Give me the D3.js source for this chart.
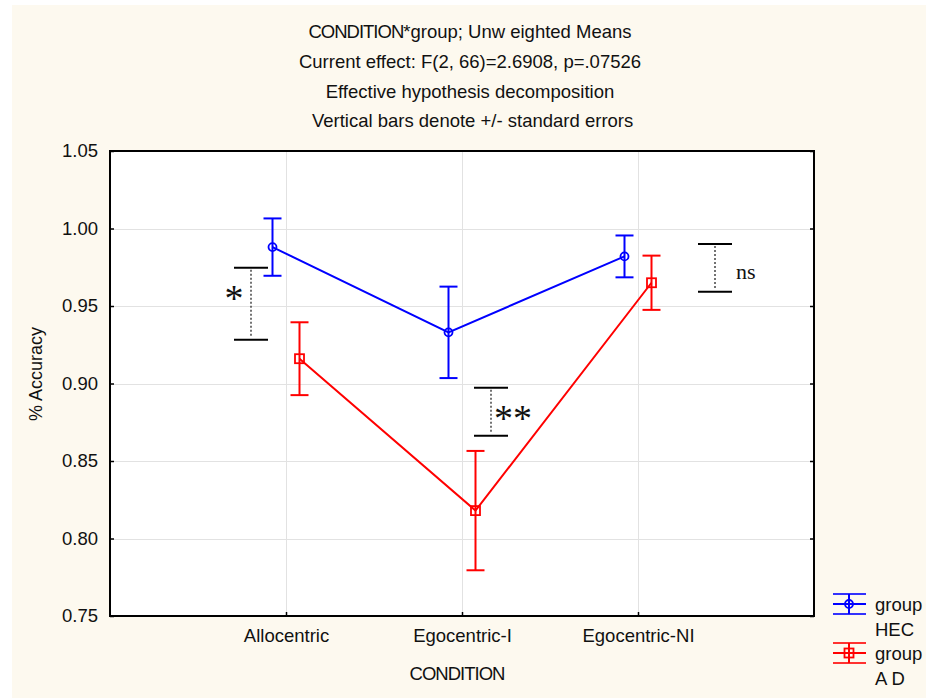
<!DOCTYPE html>
<html>
<head>
<meta charset="utf-8">
<script src="https://cdn.jsdelivr.net/npm/d3@7/dist/d3.min.js"></script>
<style>
  html, body { margin: 0; padding: 0; background: #ffffff; }
  svg { display: block; }
  text { font-family: "Liberation Sans", Arial, sans-serif; fill: #111; }
</style>
</head>
<body>
<svg id="chart" width="926" height="698"></svg>
<script>
// Conditions on the x axis
const conditions = ["Allocentric", "Egocentric-I", "Egocentric-NI"];

// Group means and standard errors (proportion correct)
const groups = ["HEC", "AD"];
const hecMean = [0.988, 0.933, 0.982];
const hecSE   = [0.0185, 0.0295, 0.0135];
const adMean  = [0.916, 0.818, 0.965];
const adSE    = [0.0235, 0.0385, 0.0175];

// Y axis ticks
const yTicks = [0.75, 0.80, 0.85, 0.90, 0.95, 1.00, 1.05];

// Title lines
const titleLines = [
  "CONDITION*group; Unw eighted Means",
  "Current effect: F(2, 66)=2.6908, p=.07526",
  "Effective hypothesis decomposition",
  " Vertical bars denote +/- standard errors"
];

// Pairwise comparison brackets: condition, upper value, lower value, label
const bracketCond  = ["Allocentric", "Egocentric-I", "Egocentric-NI"];
const bracketHigh  = [0.9747, 0.8973, 0.9900];
const bracketLow   = [0.9283, 0.8663, 0.9592];
const bracketLabel = ["*", "**", "ns"];

// ---- layout ----
const svg = d3.select("#chart");
const W = 926, H = 698;
const plot = { left: 110, top: 151, right: 814, bottom: 616 };
const groupColor = { HEC: "#0000ff", AD: "#ff0000" };
const groupDx = { HEC: -13.5, AD: 13.5 };
const bracketDx = [-35, 29, 77];
const FS = 18.5;
const serif = "Liberation Serif, Times New Roman, serif";

// page background
svg.append("rect").attr("x", 12).attr("y", 5).attr("width", W - 12).attr("height", H - 5)
  .attr("fill", "#fdf9ef");

const x = d3.scalePoint().domain(conditions).range([plot.left, plot.right]).padding(1);
const y = d3.scaleLinear().domain([0.75, 1.05]).range([plot.bottom, plot.top]);

// plot area
svg.append("rect")
  .attr("x", plot.left).attr("y", plot.top)
  .attr("width", plot.right - plot.left).attr("height", plot.bottom - plot.top)
  .attr("fill", "#ffffff");

// grid
const grid = svg.append("g").attr("stroke", "#e2e2e2").attr("stroke-width", 1);
grid.selectAll("line.h").data(yTicks.slice(1, -1)).join("line")
  .attr("x1", plot.left).attr("x2", plot.right)
  .attr("y1", d => Math.round(y(d)) + 0.5).attr("y2", d => Math.round(y(d)) + 0.5);
grid.selectAll("line.v").data(conditions).join("line")
  .attr("x1", d => Math.round(x(d)) + 0.5).attr("x2", d => Math.round(x(d)) + 0.5)
  .attr("y1", plot.top).attr("y2", plot.bottom);

// axes (ticks pointing inward)
const yAxis = d3.axisLeft(y).tickValues(yTicks).tickFormat(d3.format(".2f")).tickSizeInner(-4).tickSizeOuter(0).tickPadding(12);
const gy = svg.append("g").attr("transform", `translate(${plot.left},0)`).call(yAxis);
gy.select(".domain").remove();
gy.selectAll(".tick line").attr("stroke", "#000").attr("stroke-width", 1.5);
gy.selectAll(".tick text").attr("font-size", FS).attr("fill", "#111")
  .attr("font-family", "Liberation Sans, Arial, sans-serif");

const yAxisR = d3.axisRight(y).tickValues(yTicks).tickSizeInner(-4).tickSizeOuter(0).tickFormat("");
const gyr = svg.append("g").attr("transform", `translate(${plot.right},0)`).call(yAxisR);
gyr.select(".domain").remove();
gyr.selectAll(".tick line").attr("stroke", "#000").attr("stroke-width", 1.5);

const xAxis = d3.axisBottom(x).tickSizeInner(-4).tickSizeOuter(0).tickPadding(13);
const gx = svg.append("g").attr("transform", `translate(0,${plot.bottom})`).call(xAxis);
gx.select(".domain").remove();
gx.selectAll(".tick line").attr("stroke", "#000").attr("stroke-width", 1.5);
gx.selectAll(".tick text").attr("font-size", FS).attr("fill", "#111")
  .attr("font-family", "Liberation Sans, Arial, sans-serif");

// frame
svg.append("rect")
  .attr("x", plot.left).attr("y", plot.top)
  .attr("width", plot.right - plot.left).attr("height", plot.bottom - plot.top)
  .attr("fill", "none").attr("stroke", "#000").attr("stroke-width", 2);

// series
const series = [
  { name: "HEC", mean: hecMean, se: hecSE },
  { name: "AD", mean: adMean, se: adSE }
];

series.forEach(s => {
  const col = groupColor[s.name];
  const px = i => x(conditions[i]) + groupDx[s.name];
  const g = svg.append("g");
  g.append("path")
    .datum(s.mean)
    .attr("fill", "none").attr("stroke", col).attr("stroke-width", 2)
    .attr("d", d3.line().x((d, i) => px(i)).y(d => y(d)));
  s.mean.forEach((m, i) => {
    const cx = px(i), hi = y(m + s.se[i]), lo = y(m - s.se[i]);
    g.append("line").attr("x1", cx).attr("x2", cx).attr("y1", hi).attr("y2", lo)
      .attr("stroke", col).attr("stroke-width", 2);
    [hi, lo].forEach(yy => g.append("line")
      .attr("x1", cx - 9).attr("x2", cx + 9).attr("y1", yy).attr("y2", yy)
      .attr("stroke", col).attr("stroke-width", 2));
    if (s.name === "HEC") {
      g.append("circle").attr("cx", cx).attr("cy", y(m)).attr("r", 4)
        .attr("fill", "none").attr("stroke", col).attr("stroke-width", 1.8);
    } else {
      g.append("rect").attr("x", cx - 4.5).attr("y", y(m) - 4.5).attr("width", 9).attr("height", 9)
        .attr("fill", "none").attr("stroke", col).attr("stroke-width", 1.8);
    }
  });
});

// comparison brackets
bracketCond.forEach((c, i) => {
  const cx = x(c) + bracketDx[i];
  const yh = y(bracketHigh[i]), yl = y(bracketLow[i]);
  const g = svg.append("g");
  [yh, yl].forEach(yy => g.append("line")
    .attr("x1", cx - 17).attr("x2", cx + 17).attr("y1", yy).attr("y2", yy)
    .attr("stroke", "#000").attr("stroke-width", 2));
  g.append("line").attr("x1", cx).attr("x2", cx).attr("y1", yh + 2).attr("y2", yl - 2)
    .attr("stroke", "#444").attr("stroke-width", 1.5).attr("stroke-dasharray", "2,2");
  const lab = bracketLabel[i];
  const ym = (yh + yl) / 2;
  if (lab === "*") {
    g.append("text").attr("x", cx - 17).attr("y", ym + 7).attr("text-anchor", "middle")
      .style("font-family", serif).attr("font-size", 38).text(lab);
  } else if (lab === "**") {
    g.append("text").attr("x", cx + 22).attr("y", ym + 19).attr("text-anchor", "middle")
      .style("font-family", serif).attr("font-size", 38).text(lab);
  } else {
    g.append("text").attr("x", cx + 21).attr("y", ym + 11).attr("text-anchor", "start")
      .style("font-family", serif).attr("font-size", 22).text(lab);
  }
});

// titles
const titleBase = [38, 68, 98, 127];
const tg = svg.append("g");
titleLines.forEach((line, i) => {
  const t = tg.append("text").attr("x", 470).attr("y", titleBase[i])
    .attr("text-anchor", "middle").attr("font-size", FS).style("white-space", "pre");
  if (line.startsWith("CONDITION")) {
    t.append("tspan").attr("letter-spacing", -1).text("CONDITION");
    t.append("tspan").text(line.slice("CONDITION".length));
  } else {
    t.text(line);
  }
});

// axis titles
svg.append("text").attr("x", 457).attr("y", 680).attr("text-anchor", "middle")
  .attr("font-size", FS).attr("letter-spacing", -1).text("CONDITION");
svg.append("text").attr("transform", "translate(42,374) rotate(-90)")
  .attr("text-anchor", "middle").attr("font-size", 18).text("% Accuracy");

// legend
const legendY = [604, 653];
groups.forEach((gname, i) => {
  const col = groupColor[gname];
  const cy = legendY[i], cx = 849;
  const g = svg.append("g");
  [cy - 10, cy, cy + 10].forEach(yy => g.append("line")
    .attr("x1", 833).attr("x2", 866).attr("y1", yy).attr("y2", yy)
    .attr("stroke", col).attr("stroke-width", 2).attr("stroke-opacity", yy === cy ? 1 : 0.8));
  g.append("line").attr("x1", cx).attr("x2", cx).attr("y1", cy - 10).attr("y2", cy + 10)
    .attr("stroke", col).attr("stroke-width", 2);
  if (gname === "HEC") {
    g.append("circle").attr("cx", cx).attr("cy", cy).attr("r", 4)
      .attr("fill", "none").attr("stroke", col).attr("stroke-width", 1.8);
  } else {
    g.append("rect").attr("x", cx - 4.5).attr("y", cy - 4.5).attr("width", 9).attr("height", 9)
      .attr("fill", "none").attr("stroke", col).attr("stroke-width", 1.8);
  }
  g.append("text").attr("x", 875).attr("y", cy + 7).attr("font-size", FS).text("group");
  g.append("text").attr("x", 875).attr("y", cy + 32).attr("font-size", FS)
    .style("white-space", "pre").text(gname === "AD" ? "A D" : gname);
});
</script>
</body>
</html>
